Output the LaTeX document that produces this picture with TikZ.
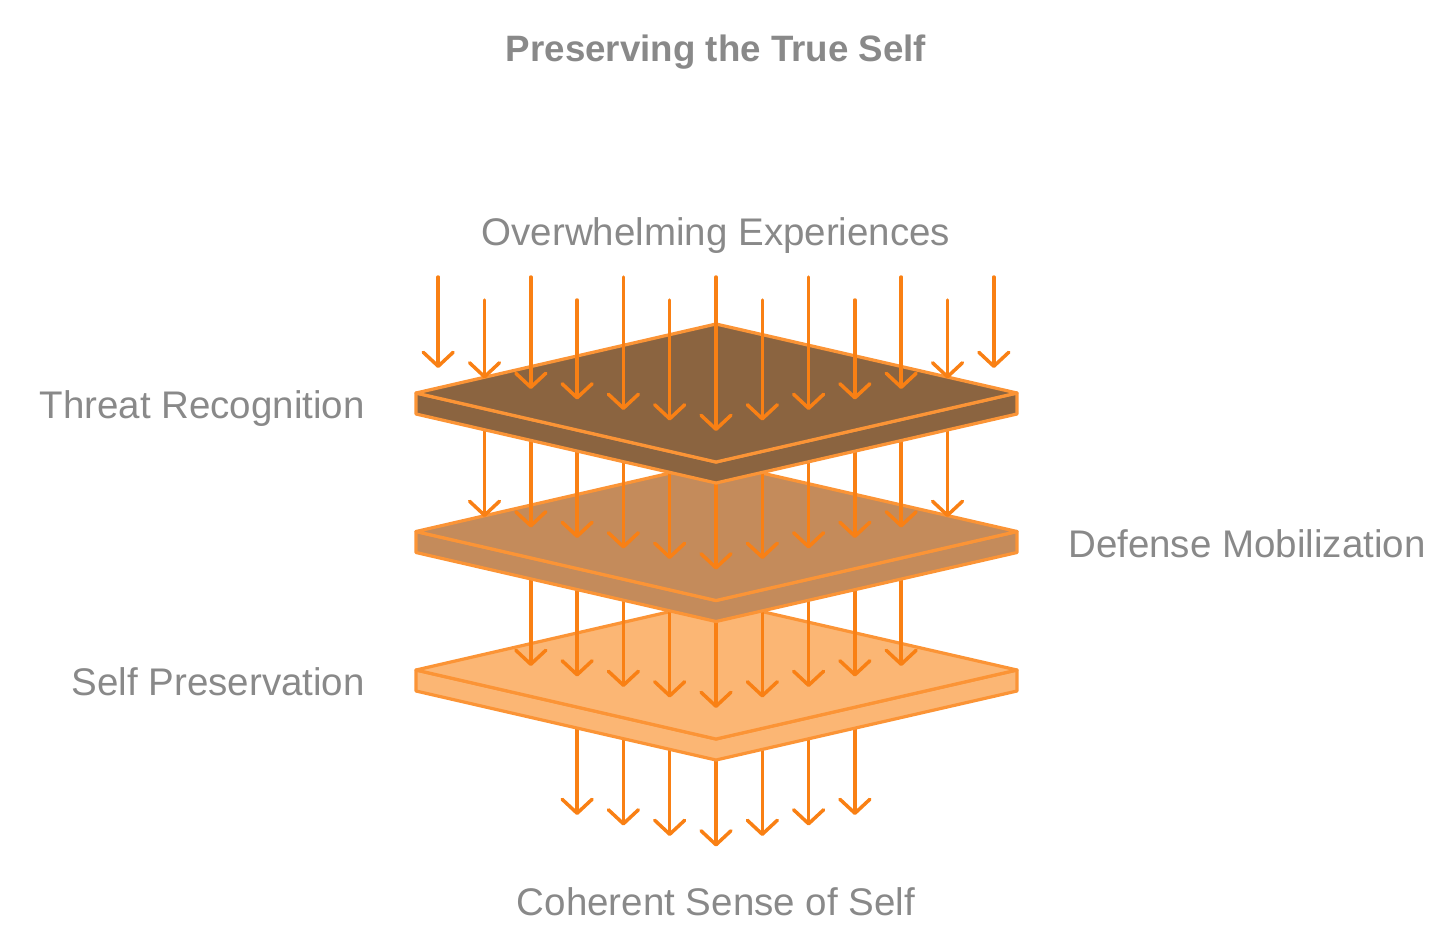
\documentclass[tikz,border=0pt]{standalone}
\usepackage{fontspec}
\setmainfont{Liberation Sans}
\usetikzlibrary{arrows.meta}
\definecolor{txtgray}{HTML}{898989}
\definecolor{arrowc}{HTML}{F98014}
\definecolor{platestroke}{HTML}{FB9436}
\definecolor{fillA}{HTML}{8B6440}
\definecolor{fillB}{HTML}{C48B5B}
\definecolor{fillC}{HTML}{FBB674}
\tikzset{
  flow/.style={draw=arrowc, line width=3.5pt, line cap=round,
    -{Straight Barb[length=14pt,width=30pt,round]}},
  plate/.style={draw=platestroke, line width=3.2pt, line join=round},
  lbl/.style={text=txtgray, inner sep=0pt, font=\fontsize{38.5}{42}\selectfont},
  ttl/.style={text=txtgray, inner sep=0pt, font=\fontsize{36.7}{40}\selectfont\bfseries}
}
% \plateat{center y}{fill colour}
\newcommand{\plateat}[2]{%
  \filldraw[plate, fill=#2] (416,#1) -- (716,#1+69) -- (1017,#1) -- (1017,#1+21) -- (716,#1+90) -- (416,#1+21) -- cycle;
  \filldraw[plate, fill=#2] (416,#1) -- (716,#1-69) -- (1017,#1) -- (716,#1+69) -- cycle;
}
\begin{document}
\begin{tikzpicture}[x=1pt,y=-1pt]
\useasboundingbox (0,0) rectangle (1456,948);

% final arrows (below bottom plate)
\foreach \k in {-3,...,3}{
  \pgfmathsetmacro{\xx}{716+46.3*\k}
  \pgfmathsetmacro{\hy}{846.5-10.5*abs(\k)}
  \pgfmathsetmacro{\sy}{708-10.5*abs(\k)+8}
  \coordinate (d\k s) at (\xx,\sy);
  \coordinate (d\k e) at (\xx,\hy);
  \draw[flow] (d\k s) -- (d\k e);
}
\plateat{670}{fillC}
% bottom group
\foreach \k in {-4,...,4}{
  \pgfmathsetmacro{\xx}{716+46.3*\k}
  \pgfmathsetmacro{\hy}{708-10.5*abs(\k)}
  \pgfmathsetmacro{\sy}{569.5-10.5*abs(\k)+8}
  \coordinate (c\k s) at (\xx,\sy);
  \coordinate (c\k e) at (\xx,\hy);
  \draw[flow] (c\k s) -- (c\k e);
}
\plateat{531.5}{fillB}
% middle group
\foreach \k in {-5,...,5}{
  \pgfmathsetmacro{\xx}{716+46.3*\k}
  \pgfmathsetmacro{\hy}{569.5-10.5*abs(\k)}
  \pgfmathsetmacro{\sy}{431-10.5*abs(\k)+8}
  \coordinate (b\k s) at (\xx,\sy);
  \coordinate (b\k e) at (\xx,\hy);
  \draw[flow] (b\k s) -- (b\k e);
}
\plateat{393}{fillA}
% top group
\foreach \k in {-6,...,6}{
  \pgfmathsetmacro{\xx}{716+46.3*\k}
  \pgfmathsetmacro{\hy}{431-10.5*abs(\k)}
  \pgfmathsetmacro{\sy}{isodd(\k) ? 300 : 277}
  \coordinate (a\k s) at (\xx,\sy);
  \coordinate (a\k e) at (\xx,\hy);
  \draw[flow] (a\k s) -- (a\k e);
}

\node[ttl, anchor=base] (title) at (716,61) {Preserving the True Self};
\node[lbl, anchor=base] (over) at (716,245) {Overwhelming Experiences};
\node[lbl, anchor=base east] (threat) at (365,418) {Threat Recognition};
\node[lbl, anchor=base west] (defense) at (1068,557) {Defense Mobilization};
\node[lbl, anchor=base east] (selfp) at (365,695) {Self Preservation};
\node[lbl, anchor=base] (coh) at (716,915) {Coherent Sense of Self};
\end{tikzpicture}
\end{document}
